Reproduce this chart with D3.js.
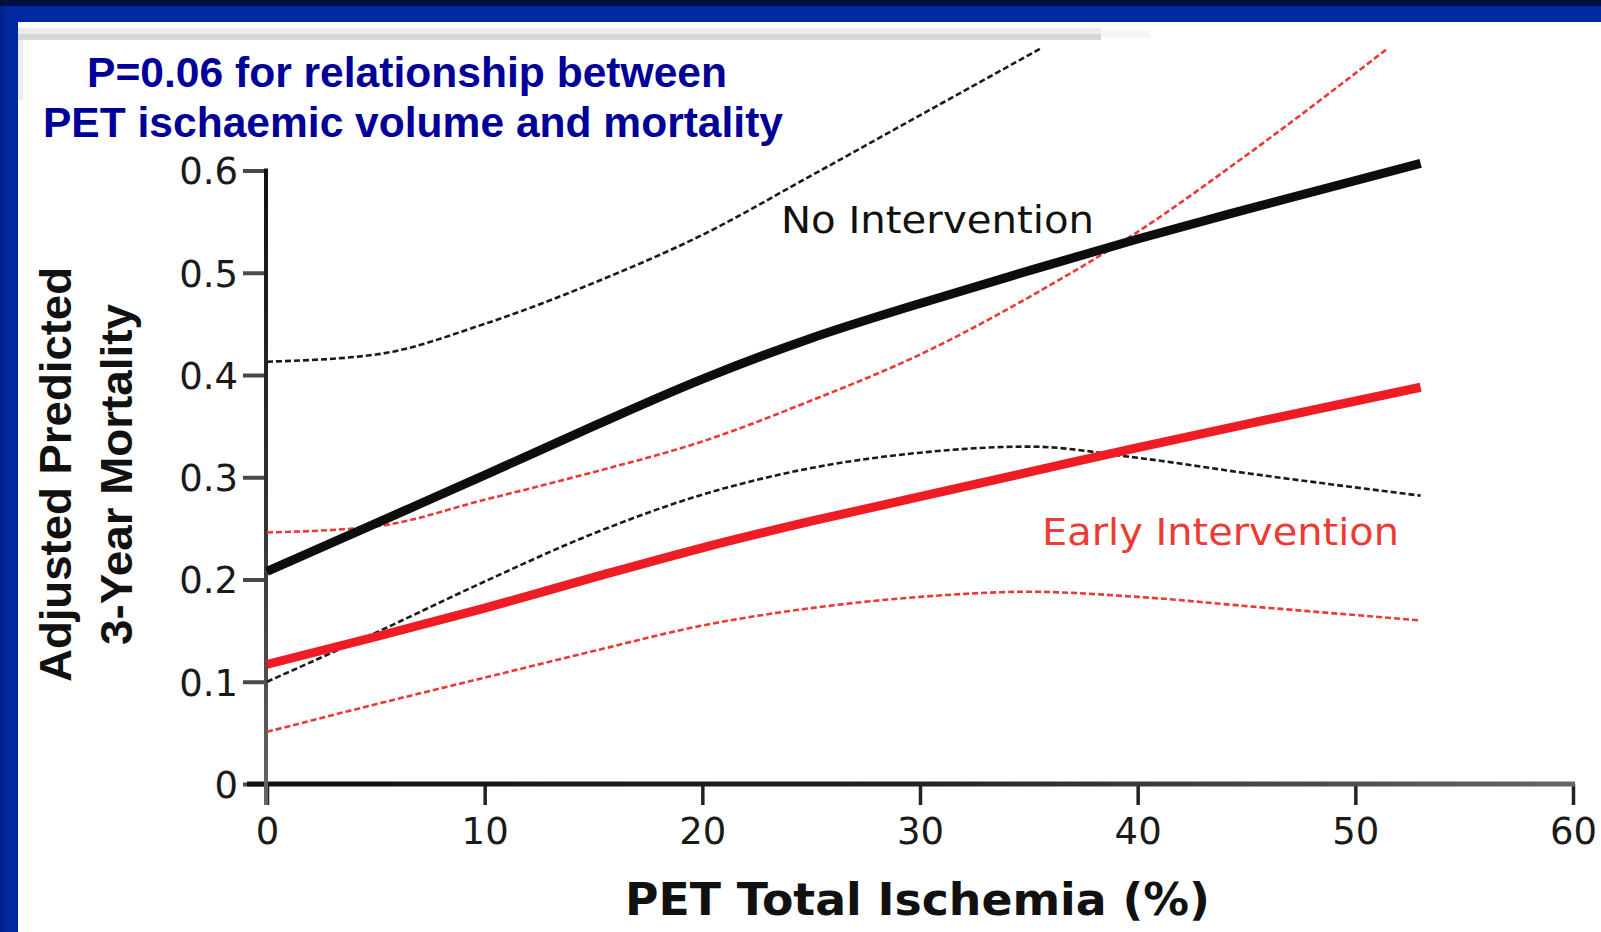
<!DOCTYPE html>
<html><head><meta charset="utf-8">
<script src="https://cdn.jsdelivr.net/npm/d3@7"></script>
<style>body{margin:0;background:#fff;} svg{display:block}</style>
</head><body>
<svg id="chart" width="1601" height="932"></svg>
<script>
// ---- data ----
const xTickValues = [0, 10, 20, 30, 40, 50, 60];
const yTickValues = [0, 0.1, 0.2, 0.3, 0.4, 0.5, 0.6];
const pctIschemia = [0, 5, 10, 15, 20, 25, 30, 35, 40, 45, 53];
const noInterventionMean = [0.208, 0.255, 0.302, 0.35, 0.396, 0.436, 0.47, 0.502, 0.533, 0.562, 0.607];
const noInterventionLower = [0.10, 0.148, 0.198, 0.245, 0.283, 0.309, 0.324, 0.33, 0.319, 0.304, 0.282];
const noInterventionUpperX = [0, 5, 10, 15, 20, 25, 30, 35.6];
const noInterventionUpper = [0.413, 0.42, 0.45, 0.49, 0.537, 0.595, 0.654, 0.72];
const earlyInterventionMean = [0.117, 0.144, 0.172, 0.202, 0.231, 0.257, 0.281, 0.305, 0.329, 0.352, 0.388];
const earlyInterventionLower = [0.051, 0.078, 0.104, 0.13, 0.155, 0.172, 0.183, 0.188, 0.183, 0.174, 0.16];
const earlyInterventionUpperX = [0, 5, 10, 15, 20, 25, 30, 35, 40, 45, 51.4];
const earlyInterventionUpper = [0.246, 0.252, 0.278, 0.305, 0.335, 0.375, 0.42, 0.476, 0.54, 0.615, 0.718];
const titleLines = ["P=0.06 for relationship between", "PET ischaemic volume and mortality"];
const yTitleLines = ["Adjusted Predicted", "3-Year Mortality"];
const xTitle = "PET Total Ischemia (%)";
const seriesLabels = ["No Intervention", "Early Intervention"];

// ---- drawing ----
const svg = d3.select("#chart");
const defs = svg.append("defs");
const gx = defs.append("linearGradient").attr("id", "xAxisGrad").attr("x1", "0%").attr("x2", "100%").attr("y1", "0%").attr("y2", "0%");
gx.append("stop").attr("offset", "0%").attr("stop-color", "#111");
gx.append("stop").attr("offset", "50%").attr("stop-color", "#222");
gx.append("stop").attr("offset", "100%").attr("stop-color", "#666");
const gy = defs.append("linearGradient").attr("id", "yAxisGrad").attr("x1", "0").attr("x2", "0").attr("y1", "0%").attr("y2", "100%");
gy.append("stop").attr("offset", "0%").attr("stop-color", "#111");
gy.append("stop").attr("offset", "55%").attr("stop-color", "#333");
gy.append("stop").attr("offset", "100%").attr("stop-color", "#666");

// slide frame
svg.append("rect").attr("x", 0).attr("y", 0).attr("width", 1601).attr("height", 932).attr("fill", "#fff");
svg.append("rect").attr("x", 0).attr("y", 0).attr("width", 1601).attr("height", 6).attr("fill", "#001040");
svg.append("rect").attr("x", 0).attr("y", 6).attr("width", 1601).attr("height", 16).attr("fill", "#0029a0");
svg.append("rect").attr("x", 0).attr("y", 6).attr("width", 18).attr("height", 926).attr("fill", "#0029a0");
svg.append("rect").attr("x", 0).attr("y", 6).attr("width", 4).attr("height", 926).attr("fill", "#00208c");
svg.append("rect").attr("x", 18).attr("y", 28).attr("width", 1083).attr("height", 6).attr("fill", "#ececec");
svg.append("rect").attr("x", 18).attr("y", 34).attr("width", 1083).attr("height", 6).attr("fill", "#d6d6d6");
svg.append("rect").attr("x", 1101).attr("y", 30).attr("width", 50).attr("height", 8).attr("fill", "#f6f6f6");
svg.append("rect").attr("x", 18).attr("y", 40).attr("width", 5).attr("height", 60).attr("fill", "#ededed");

const x = d3.scaleLinear().domain([0, 60]).range([267, 1573]);
const y = d3.scaleLinear().domain([0, 0.6]).range([784, 170.5]);

// title
const titleX = [87, 43], titleLen = [640, 740], titleBase = [87, 137];
svg.selectAll("text.title").data(titleLines).join("text")
  .attr("class", "title")
  .attr("x", (d, i) => titleX[i]).attr("y", (d, i) => titleBase[i])
  .attr("textLength", (d, i) => titleLen[i]).attr("lengthAdjust", "spacingAndGlyphs")
  .attr("font-family", "'Liberation Sans', Arial, sans-serif").attr("font-weight", "bold")
  .attr("font-size", 42).attr("fill", "#000098").text(d => d);

// y axis
const yAxis = d3.axisLeft(y).tickValues(yTickValues).tickSize(23).tickSizeOuter(0)
  .tickFormat(d => d === 0 ? "0" : d3.format(".1f")(d));
const yg = svg.append("g").attr("transform", "translate(266,0)").call(yAxis);
yg.select(".domain").remove();
yg.selectAll(".tick line").attr("stroke", "#4a4a4a").attr("stroke-width", 4);
yg.selectAll(".tick text").attr("x", -28).attr("dy", "0.36em")
  .attr("font-family", "'DejaVu Sans', Verdana, sans-serif").attr("font-size", 37).attr("fill", "#1a1a1a");

// x axis
const xAxis = d3.axisBottom(x).tickValues(xTickValues).tickSize(21).tickSizeOuter(0).tickFormat(d3.format("d"));
const xg = svg.append("g").attr("transform", "translate(0,784)").call(xAxis);
xg.select(".domain").remove();
xg.selectAll(".tick line").attr("stroke", "#222").attr("stroke-width", 3.5);
xg.selectAll(".tick text").attr("y", 47).attr("dy", "0.36em")
  .attr("font-family", "'DejaVu Sans', Verdana, sans-serif").attr("font-size", 37).attr("fill", "#1a1a1a");

// axis lines
svg.append("rect").attr("x", x(0) - 20).attr("y", y(0) - 2.5).attr("width", x(60) + 2 - (x(0) - 20)).attr("height", 5)
  .attr("fill", "url(#xAxisGrad)");
svg.append("rect").attr("x", x(0) - 3).attr("y", y(0.6) - 2).attr("width", 4).attr("height", y(0) + 21 - y(0.6) + 2)
  .attr("fill", "url(#yAxisGrad)");

// series
const line = d3.line().x(d => x(d[0])).y(d => y(d[1])).curve(d3.curveMonotoneX);
const black = "#0d0d0d", red = "#ee1c24";
const dashed = [
  { data: d3.zip(noInterventionUpperX, noInterventionUpper), color: "#1a1a1a" },
  { data: d3.zip(pctIschemia, noInterventionLower), color: "#1a1a1a" },
  { data: d3.zip(earlyInterventionUpperX, earlyInterventionUpper), color: "#ea3a36" },
  { data: d3.zip(pctIschemia, earlyInterventionLower), color: "#ea3a36" }
];
svg.selectAll("path.ci").data(dashed).join("path").attr("class", "ci")
  .attr("d", d => line(d.data)).attr("fill", "none").attr("stroke", d => d.color)
  .attr("stroke-width", 2.6).attr("stroke-dasharray", "6,3");
const solid = [
  { data: d3.zip(pctIschemia, earlyInterventionMean), color: red },
  { data: d3.zip(pctIschemia, noInterventionMean), color: black }
];
svg.selectAll("path.mean").data(solid).join("path").attr("class", "mean")
  .attr("d", d => line(d.data)).attr("fill", "none").attr("stroke", d => d.color)
  .attr("stroke-width", 9);

// series labels
const labelX = [781, 1042], labelBase = [233, 545], labelLen = [313, 357], labelColor = ["#111", "#ec3b35"], labelSize = [37, 38];
svg.selectAll("text.lab").data(seriesLabels).join("text").attr("class", "lab")
  .attr("x", (d, i) => labelX[i]).attr("y", (d, i) => labelBase[i])
  .attr("textLength", (d, i) => labelLen[i]).attr("lengthAdjust", "spacingAndGlyphs")
  .attr("font-family", "'DejaVu Sans', Verdana, sans-serif").attr("font-size", (d, i) => labelSize[i])
  .attr("fill", (d, i) => labelColor[i]).text(d => d);

// axis titles
svg.append("text").attr("x", 625).attr("y", 915).attr("textLength", 585).attr("lengthAdjust", "spacingAndGlyphs")
  .attr("font-family", "'DejaVu Sans', Verdana, sans-serif").attr("font-weight", "bold")
  .attr("font-size", 44).attr("fill", "#111").text(xTitle);
const yTitleBase = [71, 132], yTitleLen = [415, 341];
svg.selectAll("text.ytitle").data(yTitleLines).join("text").attr("class", "ytitle")
  .attr("transform", (d, i) => `translate(${yTitleBase[i]},474.5) rotate(-90)`)
  .attr("text-anchor", "middle")
  .attr("textLength", (d, i) => yTitleLen[i]).attr("lengthAdjust", "spacingAndGlyphs")
  .attr("font-family", "'Liberation Sans', Arial, sans-serif").attr("font-weight", "bold")
  .attr("font-size", 45).attr("fill", "#111").text(d => d);
</script>
</body></html>
